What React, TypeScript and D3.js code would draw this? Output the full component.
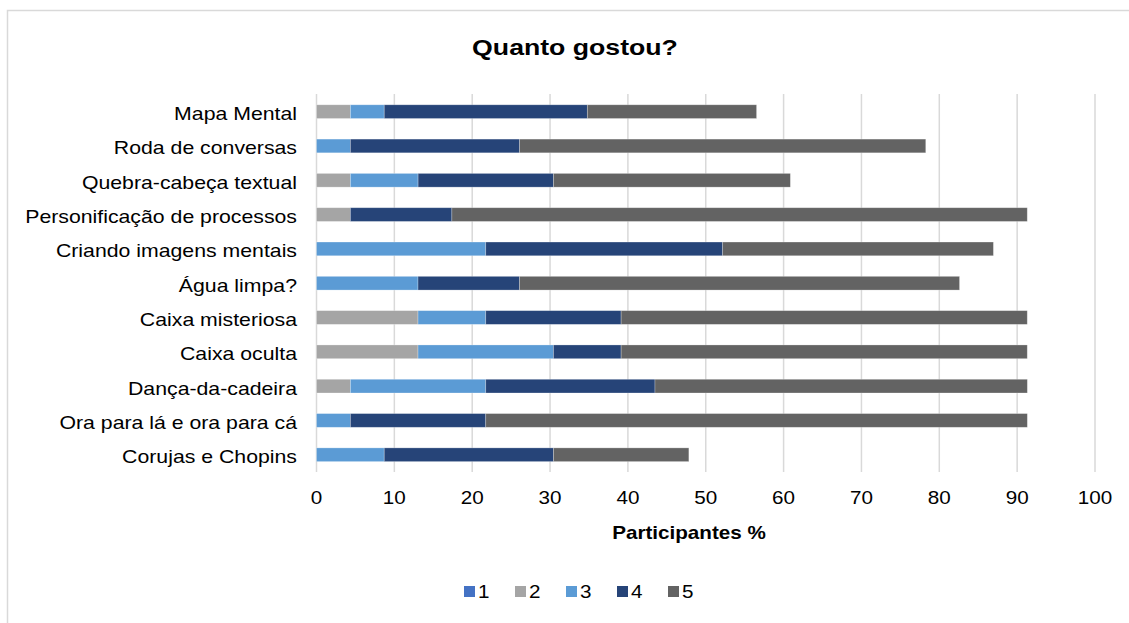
import React from "react";
import * as d3 from "d3";

// Activities (top to bottom) and share of participants per rating (1–5), in %
const categories = [
  "Mapa Mental",
  "Roda de conversas",
  "Quebra-cabeça textual",
  "Personificação de processos",
  "Criando imagens mentais",
  "Água limpa?",
  "Caixa misteriosa",
  "Caixa oculta",
  "Dança-da-cadeira",
  "Ora para lá e ora para cá",
  "Corujas e Chopins",
];

const rating1 = [0, 0, 0, 0, 0, 0, 0, 0, 0, 0, 0];
const rating2 = [4.35, 0, 4.35, 4.35, 0, 0, 13.04, 13.04, 4.35, 0, 0];
const rating3 = [4.35, 4.35, 8.7, 0, 21.74, 13.04, 8.7, 17.39, 17.39, 4.35, 8.7];
const rating4 = [26.09, 21.74, 17.39, 13.04, 30.43, 13.04, 17.39, 8.7, 21.74, 17.39, 21.74];
const rating5 = [21.74, 52.17, 30.43, 73.91, 34.78, 56.52, 52.17, 52.17, 47.83, 69.57, 17.39];

const seriesNames = ["1", "2", "3", "4", "5"];
const seriesColors = ["#4472C4", "#A5A5A5", "#5B9BD5", "#264478", "#636363"];
const xTicks = [0, 10, 20, 30, 40, 50, 60, 70, 80, 90, 100];

const FONT = "'Liberation Sans', Arial, Helvetica, sans-serif";

function SText({ x, y, anchor = "start", size = 17.5, bold = false, sx = 1.18, children }: any) {
  return (
    <g transform={`translate(${x},${y}) scale(${sx},1)`}>
      <text
        textAnchor={anchor}
        fontFamily={FONT}
        fontSize={size}
        fontWeight={bold ? "bold" : "normal"}
        fill="#000"
      >
        {children}
      </text>
    </g>
  );
}

export default function App() {
  const width = 1129;
  const height = 623;

  const x = d3.scaleLinear().domain([0, 100]).range([316.5, 1095]);
  const y = d3
    .scaleBand<string>()
    .domain(categories)
    .range([94.5, 471.9])
    .paddingInner(0.6)
    .paddingOuter(0.3);

  const rows = categories.map((c, i) => ({
    cat: c,
    "1": rating1[i],
    "2": rating2[i],
    "3": rating3[i],
    "4": rating4[i],
    "5": rating5[i],
  }));
  const stacked = d3.stack<any>().keys(seriesNames)(rows);

  const [y0, y1] = [94, 472];
  const legendX = d3.scalePoint<string>().domain(seriesNames).range([464, 668]);

  return (
    <svg
      width={width}
      height={height}
      style={{ position: "absolute", left: 0, top: 0, background: "#fff" }}
    >
      <rect x={7.5} y={10.5} width={1200} height={700} fill="#fff" stroke="#d9d9d9" strokeWidth={1.5} />

      <SText x={575} y={55} anchor="middle" size={22.6} bold>
        Quanto gostou?
      </SText>

      {/* vertical gridlines */}
      {xTicks.map((t) => (
        <line key={t} x1={x(t)} x2={x(t)} y1={y0} y2={y1} stroke="#d9d9d9" strokeWidth={1.5} />
      ))}

      {/* stacked bars */}
      {stacked.map((s, si) => (
        <g key={s.key} fill={seriesColors[si]}>
          {s.map((d, i) =>
            d[1] - d[0] > 0 ? (
              <rect
                key={i}
                x={x(d[0])}
                y={y(categories[i])!}
                width={x(d[1]) - x(d[0])}
                height={y.bandwidth()}
                stroke="#ffffff"
                strokeOpacity={0.35}
                strokeWidth={0.75}
              />
            ) : null
          )}
        </g>
      ))}

      {/* category labels */}
      {categories.map((c) => (
        <SText key={c} x={297} y={y(c)! + y.bandwidth() / 2 + 8.5} anchor="end" sx={1.215}>
          {c}
        </SText>
      ))}

      {/* x tick labels */}
      {xTicks.map((t) => (
        <SText key={t} x={x(t)} y={504} anchor="middle">
          {t}
        </SText>
      ))}

      <SText x={689} y={539} anchor="middle" bold>
        Participantes %
      </SText>

      {/* legend */}
      {seriesNames.map((n, i) => (
        <g key={n}>
          <rect x={legendX(n)!} y={586} width={11} height={11} fill={seriesColors[i]} />
          <SText x={legendX(n)! + 14} y={598}>
            {n}
          </SText>
        </g>
      ))}
    </svg>
  );
}
